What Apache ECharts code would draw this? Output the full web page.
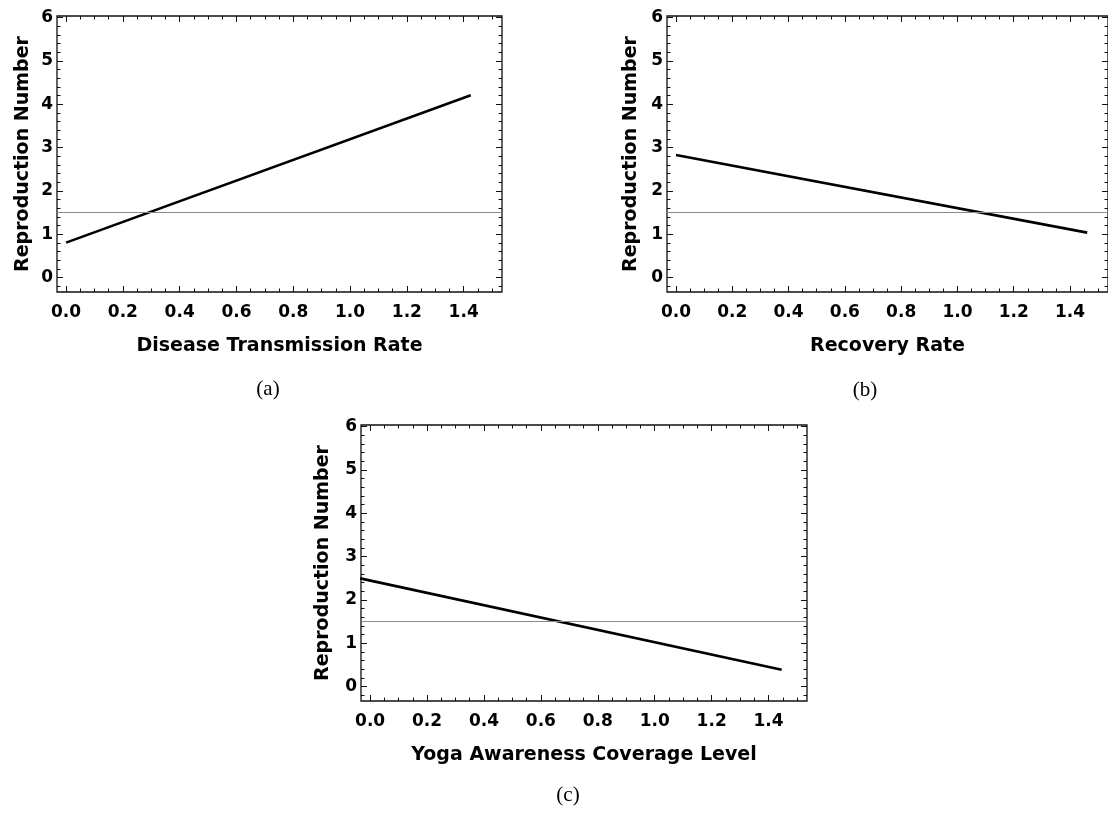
<!DOCTYPE html>
<html>
<head>
<meta charset="utf-8">
<script src="https://cdn.jsdelivr.net/npm/echarts@6/dist/echarts.min.js"></script>
<style>
  html, body { margin: 0; padding: 0; background: #fff; }
  #chart { width: 1108px; height: 816px; }
</style>
</head>
<body>
<div id="chart"></div>
<script>
// Reproduction number against three model parameters
const transmissionRate = [0, 1.425];
const r0VsTransmission = [0.81, 4.21];

const recoveryRate = [0, 1.461];
const r0VsRecovery = [2.83, 1.04];

const yogaCoverage = [-0.035, 1.446];
const r0VsYoga = [2.50, 0.39];

const thresholdR = 1.5;

// Tick positions and labels
const xMajorTicks = [0, 0.2, 0.4, 0.6, 0.8, 1.0, 1.2, 1.4];
const xMinorTicks = [0.05, 0.1, 0.15, 0.25, 0.3, 0.35, 0.45, 0.5, 0.55, 0.65, 0.7, 0.75,
                     0.85, 0.9, 0.95, 1.05, 1.1, 1.15, 1.25, 1.3, 1.35, 1.45, 1.5];
const yMajorTicks = [0, 1, 2, 3, 4, 5, 6];
const yMinorTicks = [-0.2, 0.2, 0.4, 0.6, 0.8, 1.2, 1.4, 1.6, 1.8, 2.2, 2.4, 2.6, 2.8,
                     3.2, 3.4, 3.6, 3.8, 4.2, 4.4, 4.6, 4.8, 5.2, 5.4, 5.6, 5.8];

const xTitles = ['Disease Transmission Rate', 'Recovery Rate', 'Yoga Awareness Coverage Level'];
const yTitle = 'Reproduction Number';
const captions = ['(a)', '(b)', '(c)'];

const X_MIN = -0.032, X_MAX = 1.535;
const Y_MIN = -0.33, Y_MAX = 6.04;

const SANS = 'DejaVu Sans';
const tickColor = '#111';

const grids = [
  { left: 57, top: 16, width: 445, height: 276 },
  { left: 667, top: 16, width: 445, height: 276 },
  { left: 361, top: 425, width: 446, height: 276 }
];
const yNameGaps = [24, 26, 28];

function tick(values, len) {
  return { show: true, inside: true, length: len, customValues: values,
           lineStyle: { color: tickColor, width: 1 } };
}

const xAxis = [];
const yAxis = [];
grids.forEach((g, i) => {
  const xb = { type: 'value', gridIndex: i, min: X_MIN, max: X_MAX,
               splitLine: { show: false }, axisLine: { show: false, onZero: false } };
  const yb = { type: 'value', gridIndex: i, min: Y_MIN, max: Y_MAX,
               splitLine: { show: false }, axisLine: { show: false, onZero: false } };
  xAxis.push(
    Object.assign({}, xb, {
      position: 'bottom', name: xTitles[i], nameLocation: 'middle', nameGap: 45,
      nameTextStyle: { fontFamily: SANS, fontWeight: 'bold', fontSize: 19, color: '#000' },
      axisTick: tick(xMajorTicks, 6),
      axisLabel: { customValues: xMajorTicks, formatter: v => v.toFixed(1), margin: 12,
                   fontFamily: SANS, fontWeight: 'bold', fontSize: 17, color: '#000' }
    }),
    Object.assign({}, xb, { position: 'bottom', axisTick: tick(xMinorTicks, 3.5), axisLabel: { show: false } }),
    Object.assign({}, xb, { position: 'top', axisTick: tick(xMajorTicks, 6), axisLabel: { show: false } }),
    Object.assign({}, xb, { position: 'top', axisTick: tick(xMinorTicks, 3.5), axisLabel: { show: false } })
  );
  yAxis.push(
    Object.assign({}, yb, {
      position: 'left', name: yTitle, nameLocation: 'middle', nameGap: yNameGaps[i],
      nameTextStyle: { fontFamily: SANS, fontWeight: 'bold', fontSize: 19, color: '#000' },
      axisTick: tick(yMajorTicks, 6),
      axisLabel: { customValues: yMajorTicks, formatter: v => String(v), margin: 4,
                   fontFamily: SANS, fontWeight: 'bold', fontSize: 17, color: '#000' }
    }),
    Object.assign({}, yb, { position: 'left', axisTick: tick(yMinorTicks, 3.5), axisLabel: { show: false } }),
    Object.assign({}, yb, { position: 'right', axisTick: tick(yMajorTicks, 6), axisLabel: { show: false } }),
    Object.assign({}, yb, { position: 'right', axisTick: tick(yMinorTicks, 3.5), axisLabel: { show: false } })
  );
});

function curve(xs, ys, i) {
  return {
    type: 'line', xAxisIndex: 4 * i, yAxisIndex: 4 * i,
    data: xs.map((x, k) => [x, ys[k]]),
    showSymbol: false, clip: true, silent: true,
    lineStyle: { color: '#000', width: 2.6 },
    markLine: {
      silent: true, symbol: 'none', label: { show: false },
      lineStyle: { color: '#8a8a8a', width: 1, type: 'solid' },
      data: [{ yAxis: thresholdR }]
    },
    z: 3
  };
}

const captionPos = [[268, 389], [865, 390], [568, 795]];

const option = {
  animation: false,
  backgroundColor: '#fff',
  grid: grids.map(g => Object.assign({ show: true, borderColor: '#111', borderWidth: 1.3,
                                       backgroundColor: 'transparent', containLabel: false }, g)),
  xAxis, yAxis,
  series: [
    curve(transmissionRate, r0VsTransmission, 0),
    curve(recoveryRate, r0VsRecovery, 1),
    curve(yogaCoverage, r0VsYoga, 2)
  ],
  graphic: captions.map((c, i) => ({
    type: 'text', x: captionPos[i][0], y: captionPos[i][1],
    style: { text: c, align: 'center', verticalAlign: 'middle',
             font: '21px "Liberation Serif"', fill: '#000' }
  }))
};

const chart = echarts.init(document.getElementById('chart'), null, { renderer: 'canvas' });
chart.setOption(option);
</script>
</body>
</html>
